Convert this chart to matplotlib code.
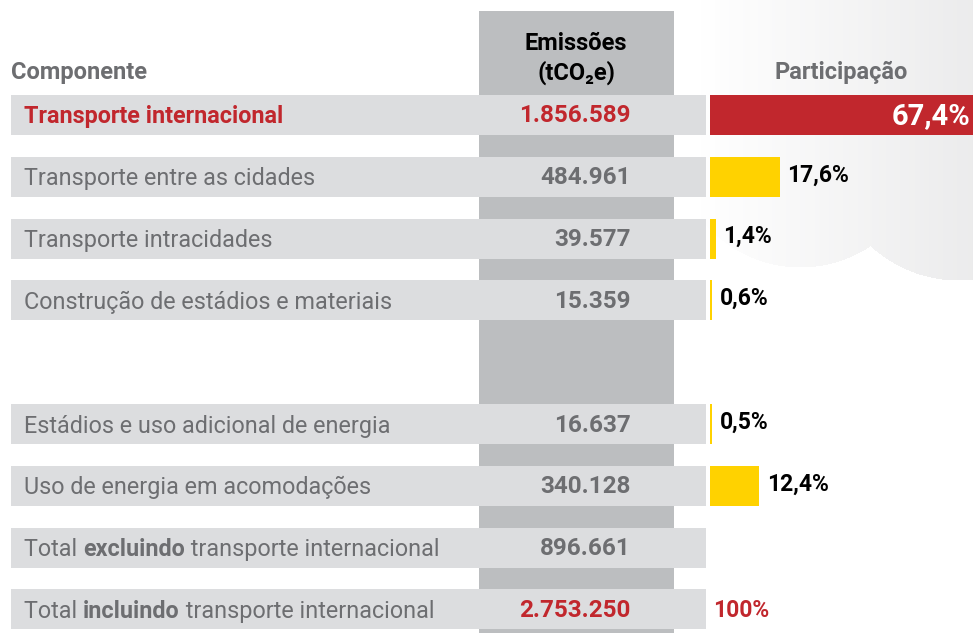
import numpy as np
import matplotlib.pyplot as plt
from matplotlib.patches import Rectangle

plt.rcParams['font.family'] = ['Roboto', 'DejaVu Sans']

# data
components = [
    "Transporte internacional",
    "Transporte entre as cidades",
    "Transporte intracidades",
    "Construção de estádios e materiais",
    "Estádios e uso adicional de energia",
    "Uso de energia em acomodações",
    "Total excluindo transporte internacional",
    "Total incluindo transporte internacional",
]
bold_words = [None, None, None, None, None, None, "excluindo", "incluindo"]
emissions = [1856589, 484961, 39577, 15359, 16637, 340128, 896661, 2753250]
shares = [67.4, 17.6, 1.4, 0.6, 0.5, 12.4, np.nan, 100.0]
slots = [0, 1, 2, 3, 5, 6, 7, 8]
red_rows = [0, 7]

GRAY_TXT = "#6d6e71"
RED = "#c1272d"
YELLOW = "#ffd200"
BAND = "#dcdddf"
COLUMN = "#bcbec0"

LBL_FS = 16.8
NUM_FS = 17.5
HDR_FS = 17
PCT_FS = 16.5

W, H = 973, 633
fig = plt.figure(figsize=(W / 100, H / 100), dpi=100)
ax = fig.add_axes([0, 0, 1, 1])
ax.set_xlim(0, W)
ax.set_ylim(H, 0)
ax.axis('off')

# decorative cloud-ish gradient on the right
xs = np.arange(690, W + 1)
ys = np.arange(0, 300)
X, Y = np.meshgrid(xs, ys)
inside = (Y < 140) | ((X - 800) ** 2 + (Y - 140) ** 2 < 127 ** 2) | ((X - 958) ** 2 + (Y - 150) ** 2 < 130 ** 2)
t = np.clip((X - 700) / (W - 700), 0, 1)
lev = 1 - 0.075 * t
img = np.ones((len(ys), len(xs), 4))
img[..., 0] = lev
img[..., 1] = lev
img[..., 2] = lev + 0.003 * t
img[..., 3] = inside.astype(float)
ax.imshow(img, extent=[690, W + 1, 300, 0], zorder=0, interpolation='bilinear', aspect='auto')
ax.set_xlim(0, W)
ax.set_ylim(H, 0)

top, step, band_h = 115, 61.8, 40
yc = np.array([top + s * step for s in slots])

# emissions column
ax.add_patch(Rectangle((479, 11), 195, H - 11, color=COLUMN, zorder=1, lw=0))

# row bands
ax.barh(yc, 695, left=11, height=band_h, color=BAND, zorder=2)

# headers
ax.text(11, 72, "Componente", fontsize=HDR_FS, fontweight='bold', color=GRAY_TXT, va='center')
ax.text(576, 43, "Emissões", fontsize=HDR_FS, fontweight='bold', color='black', va='center', ha='center')
ax.text(576, 73, "(tCO₂e)", fontsize=HDR_FS, fontweight='bold', color='black', va='center', ha='center')
ax.text(841, 72, "Participação", fontsize=HDR_FS, fontweight='bold', color=GRAY_TXT, va='center', ha='center')

# labels and values
for i, (name, bw, val, y) in enumerate(zip(components, bold_words, emissions, yc)):
    ly = y + 2
    if i == 0:
        ax.text(24, ly, name, fontsize=LBL_FS, fontweight='bold', color=RED, va='center', zorder=3)
    elif bw:
        pre, post = name.split(bw)
        t1 = ax.text(24, ly, pre, fontsize=LBL_FS, color=GRAY_TXT, va='center', zorder=3)
        t2 = ax.annotate(bw, xy=(1, 0.5), xycoords=t1, va='center', fontsize=LBL_FS,
                         fontweight='bold', color=GRAY_TXT, zorder=3)
        ax.annotate(post, xy=(1, 0.5), xycoords=t2, va='center', fontsize=LBL_FS,
                    color=GRAY_TXT, zorder=3)
    else:
        ax.text(24, ly, name, fontsize=LBL_FS, color=GRAY_TXT, va='center', zorder=3)
    txt = f"{val:,}".replace(",", ".")
    ax.text(631, y + 1, txt, fontsize=NUM_FS, fontweight='bold', ha='right', va='center',
            color=RED if i in red_rows else GRAY_TXT, zorder=3)

# share bars
px_per_pct = 3.95
sh = np.array(shares)
bar_rows = [i for i in range(len(sh)) if not np.isnan(sh[i]) and sh[i] < 100]
bar_w = sh[bar_rows] * px_per_pct
colors = [RED if i == 0 else YELLOW for i in bar_rows]
ax.barh(yc[bar_rows], bar_w, left=710, height=band_h, color=colors, zorder=2)
for i, w in zip(bar_rows, bar_w):
    lab = f"{sh[i]:.1f}%".replace(".", ",")
    if i == 0:
        ax.text(970, yc[i] + 1, lab, fontsize=21, fontweight='bold', color='white',
                ha='right', va='center', zorder=3)
    else:
        ax.text(710 + w + 8, yc[i] - 2, lab, fontsize=PCT_FS, fontweight='bold', color='black',
                ha='left', va='center', zorder=3)
ax.text(713, yc[7] + 1, f"{sh[7]:.0f}%", fontsize=PCT_FS, fontweight='bold', color=RED,
        ha='left', va='center', zorder=3)

fig.savefig("out.png", dpi=100)
